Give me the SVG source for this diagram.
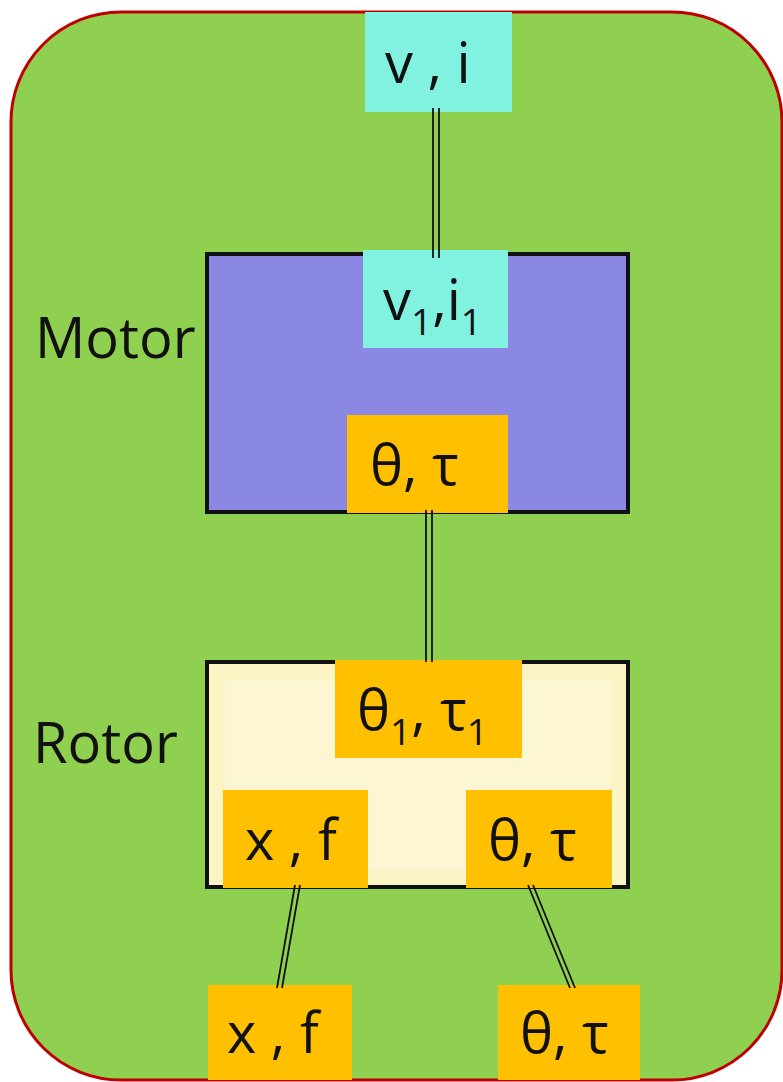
<svg xmlns="http://www.w3.org/2000/svg" width="783" height="1082" viewBox="0 0 783 1082">
<style>
text{font-family:"Open Sans","Liberation Sans",sans-serif;font-size:56px;fill:#111}
.sub{font-size:37px}
.cyan{fill:#80f2df}
.gold{fill:#ffc000}
.blk{stroke:#111;stroke-width:4;}
.wire{stroke:#111;stroke-width:1.8;fill:none}
</style>
<rect width="783" height="1082" fill="#ffffff"/>
<g id="system">
<rect x="11" y="12" width="771" height="1068" rx="110" ry="110" fill="#8fd050" stroke="#c00000" stroke-width="3"/>
</g>
<g id="motor">
<rect x="207" y="254" width="421" height="258" fill="#8a88e2" class="blk"/>
<text x="35" y="358">Motor</text>
</g>
<g id="rotor">
<rect x="207" y="662" width="421" height="225" fill="#fbf4c4" class="blk"/>
<rect x="225" y="680" width="385" height="190" fill="#fcf7d2"/>
<text x="33" y="763">Rotor</text>
</g>
<g id="port-vi">
<rect x="365" y="12" width="147" height="100" class="cyan"/>
<text x="385" y="83">v , i</text>
</g>
<g id="port-v1i1">
<rect x="363" y="250" width="145" height="98" class="cyan"/>
<text x="383" y="320">v<tspan class="sub" dy="15">1</tspan><tspan dy="-15">,i</tspan><tspan class="sub" dy="15">1</tspan></text>
</g>
<g id="port-motor-theta">
<rect x="347" y="415" width="161" height="98" class="gold"/>
<text x="370" y="485">θ, τ</text>
</g>
<g id="port-rotor-theta1">
<rect x="335" y="660" width="187" height="98" class="gold"/>
<text x="357" y="730">θ<tspan class="sub" dy="15">1</tspan><tspan dy="-15">, τ</tspan><tspan class="sub" dy="15">1</tspan></text>
</g>
<g id="port-rotor-xf">
<rect x="223" y="790" width="145" height="98" class="gold"/>
<text x="245" y="860">x , f</text>
</g>
<g id="port-rotor-theta">
<rect x="466" y="790" width="146" height="98" class="gold"/>
<text x="488" y="860">θ, τ</text>
</g>
<g id="port-xf">
<rect x="208" y="985" width="144" height="95" class="gold"/>
<text x="227" y="1053">x , f</text>
</g>
<g id="port-theta">
<rect x="498" y="985" width="142" height="95" class="gold"/>
<text x="520" y="1053">θ, τ</text>
</g>
<g id="connectors">
<line class="wire" x1="433" y1="108" x2="433" y2="258"/>
<line class="wire" x1="439" y1="108" x2="439" y2="258"/>
<line class="wire" x1="426" y1="510" x2="426" y2="662"/>
<line class="wire" x1="432" y1="510" x2="432" y2="662"/>
<line class="wire" x1="295" y1="885" x2="277" y2="988"/>
<line class="wire" x1="300" y1="885" x2="282" y2="988"/>
<line class="wire" x1="528" y1="885" x2="570" y2="988"/>
<line class="wire" x1="533" y1="885" x2="575" y2="988"/>
</g>
</svg>
